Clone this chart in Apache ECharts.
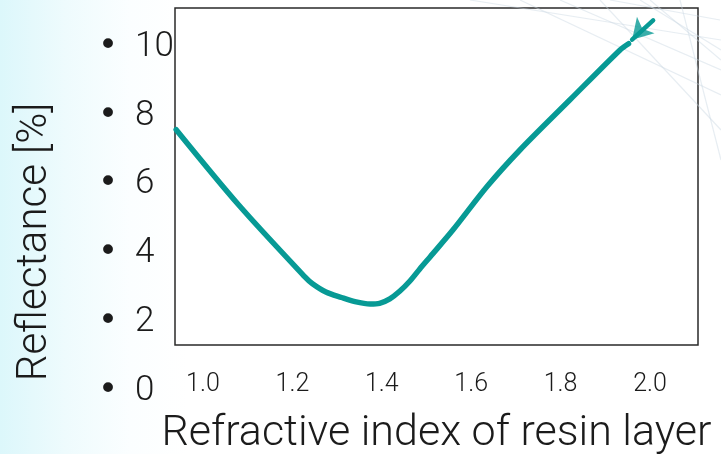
<!DOCTYPE html>
<html>
<head>
<meta charset="utf-8">
<script src="https://cdn.jsdelivr.net/npm/echarts@6/dist/echarts.min.js"></script>
<style>
html,body{margin:0;padding:0;}
#wrap{width:721px;height:454px;background:linear-gradient(to right,#dcf7fb 0%,#eefbfd 9%,#fbfeff 18%,#ffffff 26%);}
#chart{width:721px;height:454px;}
</style>
</head>
<body>
<div id="wrap"><div id="chart"></div></div>
<script>
// Refractive index of resin layer (x) vs reflectance in % (y)
const refractiveIndex = [0.94, 1.08, 1.228, 1.245, 1.275, 1.31, 1.34, 1.374, 1.395, 1.418, 1.44, 1.463, 1.485, 1.508, 1.559, 1.635, 1.709, 1.821, 1.933, 1.952];
const reflectance     = [7.60, 5.41, 3.32, 3.12, 2.88, 2.72, 2.60, 2.53, 2.55, 2.68, 2.90, 3.20, 3.55, 3.90, 4.68, 5.94, 7.01, 8.47, 9.92, 10.10];
const arrowTail = [2.007, 10.78];
const arrowHead = [1.960, 10.22];
const xTickLabels = [1.0, 1.2, 1.4, 1.6, 1.8, 2.0];
const yTickLabels = [0, 2, 4, 6, 8, 10];
const xTitle = 'Refractive index of resin layer';
const yTitle = 'Reflectance [%]';

const FONT = 'Roboto';
const TEXT = '#1b1b1b';
const TEAL = '#079a95';

const seriesData = refractiveIndex.map((x, i) => [x, reflectance[i]]);

const chart = echarts.init(document.getElementById('chart'), null, {renderer: 'canvas'});

const bgLines = [];
const lineSpecs = [
  [520, 0, 721, 95], [560, 0, 721, 70], [600, 0, 721, 130], [640, 0, 721, 50],
  [470, 0, 721, 40], [680, 0, 721, 160], [720, 20, 610, 0], [721, 60, 650, 0]
];
lineSpecs.forEach(s => bgLines.push({
  type: 'line', silent: true, z: 0,
  shape: {x1: s[0], y1: s[1], x2: s[2], y2: s[3]},
  style: {stroke: '#c9d8e3', lineWidth: 1.2, opacity: 0.45}
}));

chart.setOption({
  backgroundColor: 'transparent',
  animation: false,
  textStyle: {fontFamily: FONT},
  graphic: bgLines.concat([{
    type: 'text',
    x: 35, y: 242,
    rotation: Math.PI / 2,
    style: {
      text: yTitle, fill: TEXT, fontFamily: FONT, fontSize: 42, fontWeight: 300,
      align: 'center', verticalAlign: 'middle'
    },
    z: 10
  }]),
  grid: [
    {left: 175, right: 23, top: 8, bottom: 109, show: true, backgroundColor: 'rgba(255,255,255,0.85)', borderColor: '#2a2a2a', borderWidth: 1.5, containLabel: false, outerBoundsMode: 'none'},
    {left: 175, right: 23, top: 47, bottom: 63, show: false, containLabel: false, outerBoundsMode: 'none'}
  ],
  xAxis: [
    {
      gridIndex: 0, type: 'value', min: 0.9374, max: 2.1074,
      axisLine: {show: false}, axisTick: {show: false}, splitLine: {show: false},
      axisLabel: {
        customValues: xTickLabels,
        formatter: v => v.toFixed(1),
        margin: 27, fontSize: 25, fontWeight: 300, color: TEXT, fontFamily: FONT
      },
      name: xTitle, nameLocation: 'middle', nameGap: 68,
      nameTextStyle: {fontSize: 43, fontWeight: 300, color: TEXT, fontFamily: FONT}
    },
    {
      gridIndex: 1, type: 'value', min: 0.9374, max: 2.1074, show: false
    }
  ],
  yAxis: [
    {
      gridIndex: 0, type: 'value', min: 1.338, max: 11.14,
      axisLine: {show: false}, axisTick: {show: false}, splitLine: {show: false}, axisLabel: {show: false}
    },
    {
      gridIndex: 1, type: 'value', min: 0, max: 10, interval: 2,
      axisLine: {show: false}, axisTick: {show: false}, splitLine: {show: false},
      axisLabel: {
        customValues: yTickLabels,
        align: 'left', margin: 77,
        formatter: v => '{b|•}{n|' + v + '}',
        rich: {
          b: {fontSize: 34, width: 37, color: TEXT, fontFamily: 'DejaVu Sans', align: 'left'},
          n: {fontSize: 35, fontWeight: 300, color: TEXT, fontFamily: FONT}
        }
      }
    }
  ],
  series: [{
    type: 'line',
    xAxisIndex: 0, yAxisIndex: 0,
    data: seriesData,
    showSymbol: false,
    smooth: 0.3,
    lineStyle: {color: TEAL, width: 5.5, cap: 'round', join: 'round'},
    z: 5,
    markLine: {
      silent: true,
      symbol: ['none', 'none'],
      label: {show: false},
      lineStyle: {color: TEAL, width: 4.5, type: 'solid', cap: 'round'},
      data: [[{coord: arrowTail}, {coord: arrowHead}]]
    }
  }, {
    type: 'scatter',
    xAxisIndex: 0, yAxisIndex: 0,
    data: [arrowHead],
    symbol: 'arrow',
    symbolSize: [18, 20],
    symbolRotate: 137,
    itemStyle: {color: TEAL},
    silent: true,
    z: 6
  }]
});
</script>
</body>
</html>
